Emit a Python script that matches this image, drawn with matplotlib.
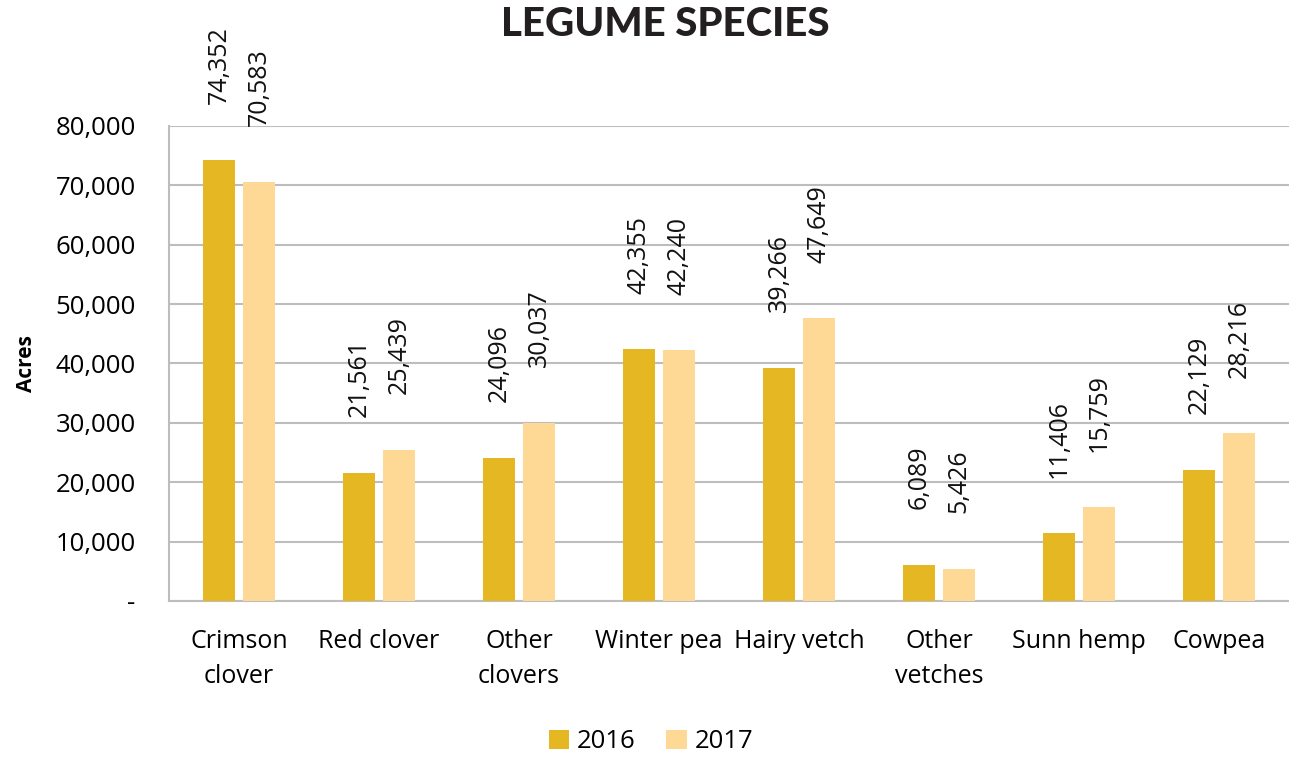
import numpy as np
import matplotlib.pyplot as plt
from matplotlib.ticker import FuncFormatter

species = ['Crimson\nclover', 'Red clover', 'Other\nclovers', 'Winter pea',
           'Hairy vetch', 'Other\nvetches', 'Sunn hemp', 'Cowpea']
acres_2016 = [74352, 21561, 24096, 42355, 39266, 6089, 11406, 22129]
acres_2017 = [70583, 25439, 30037, 42240, 47649, 5426, 15759, 28216]

c2016 = '#E5B823'
c2017 = '#FDD995'

plt.rcParams['font.family'] = ['Open Sans', 'DejaVu Sans']

fig = plt.figure(figsize=(12.89, 7.57), dpi=100)
ax = fig.add_axes([0.1311, 0.2061, 0.8689, 0.6275])

x = np.arange(len(species))
w = 0.229
off = 0.143
b1 = ax.bar(x - off, acres_2016, w, color=c2016, label='2016', zorder=3)
b2 = ax.bar(x + off, acres_2017, w, color=c2017, label='2017', zorder=3)

for bars in (b1, b2):
    for rect in bars:
        v = rect.get_height()
        ax.annotate(f'{v:,}', (rect.get_x() + rect.get_width() / 2, v),
                    xytext=(0, 40), textcoords='offset points',
                    rotation=90, ha='center', va='bottom', fontsize=18,
                    color='#111111', annotation_clip=False)

ax.set_xlim(-0.5, len(species) - 0.5)
ax.set_ylim(0, 80000)
ax.set_yticks(np.arange(0, 80001, 10000))
ax.yaxis.set_major_formatter(FuncFormatter(lambda v, p: '-' if v == 0 else f'{int(v):,}'))
ax.set_xticks(x)
ax.set_xticklabels(species, fontsize=18, linespacing=1.55)
ax.tick_params(axis='y', labelsize=18.5, length=0, pad=24)
ax.tick_params(axis='x', length=0, pad=20)
ax.grid(axis='y', color='#BDBDBD', linewidth=1.5, zorder=0)
for s in ('top', 'right'):
    ax.spines[s].set_visible(False)
ax.spines['left'].set_color('#BDBDBD')
ax.spines['left'].set_linewidth(1.5)
ax.spines['bottom'].set_color('#BDBDBD')
ax.spines['bottom'].set_linewidth(1.5)

ax.set_ylabel('Acres', fontsize=15, fontweight='bold')
ax.yaxis.set_label_coords(-0.118, 0.5)

fig.text(0.516, 0.968, 'LEGUME SPECIES', ha='center', va='center',
         fontsize=29, fontweight='black', family=['Lato', 'DejaVu Sans'], color='#231F20')

fig.legend(loc='center', bbox_to_anchor=(0.505, 0.02), ncol=2, frameon=False,
           fontsize=18.5, handlelength=0.8, handleheight=0.8, handletextpad=0.3,
           columnspacing=1.2)

fig.savefig('out.png', dpi=100)
